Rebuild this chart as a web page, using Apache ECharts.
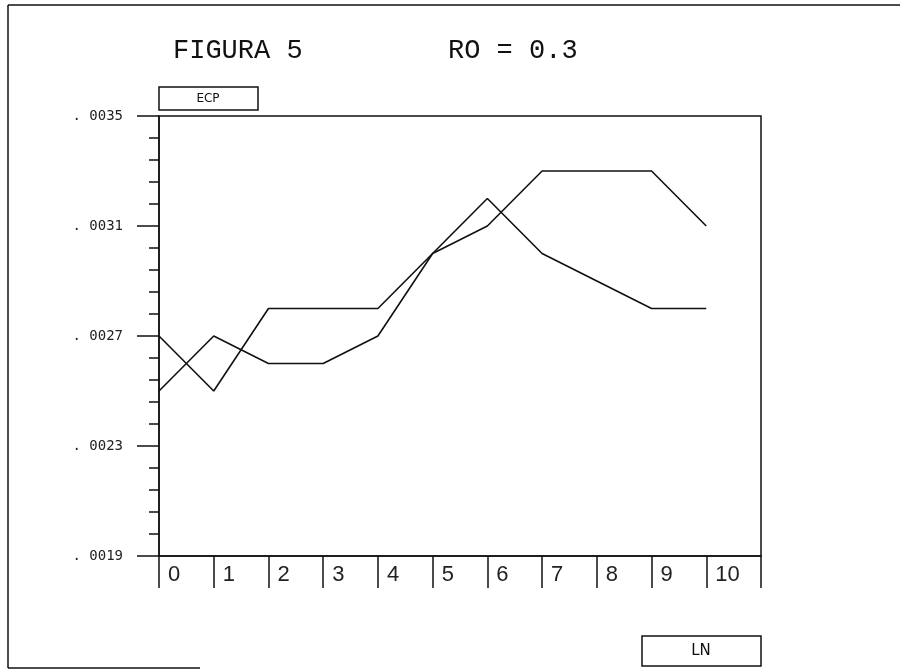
<!DOCTYPE html>
<html>
<head>
<meta charset="utf-8">
<script src="https://cdn.jsdelivr.net/npm/echarts@6/dist/echarts.min.js"></script>
<style>
html,body{margin:0;padding:0;background:#fff;}
#chart{width:900px;height:670px;}
</style>
</head>
<body>
<div id="chart"></div>
<script>
// Data
var categories = [0, 1, 2, 3, 4, 5, 6, 7, 8, 9, 10];
var seriesA = [0.0027, 0.0025, 0.0028, 0.0028, 0.0028, 0.0030, 0.0032, 0.0030, 0.0029, 0.0028, 0.0028];
var seriesB = [0.0025, 0.0027, 0.0026, 0.0026, 0.0027, 0.0030, 0.0031, 0.0033, 0.0033, 0.0033, 0.0031];
var yMin = 0.0019, yMax = 0.0035, yStep = 0.0004;
var titleText = 'FIGURA 5';
var subText = 'RO = 0.3';
var yName = 'ECP';
var xName = 'LN';

function pairs(vals) {
  return categories.map(function (c, i) { return [c, vals[i]]; });
}

var chart = echarts.init(document.getElementById('chart'), null, {renderer: 'canvas'});
var ink = '#111';
chart.setOption({
  backgroundColor: '#fff',
  animation: false,
  grid: {left: 159, right: 139, top: 116, bottom: 114, show: true, borderColor: ink, borderWidth: 1.5, backgroundColor: 'transparent'},
  xAxis: {
    type: 'value', min: 0, max: 11, interval: 1,
    axisLine: {show: true, lineStyle: {color: ink, width: 1.5}},
    axisTick: {show: true, length: 32, inside: false, lineStyle: {color: ink, width: 1.5}},
    splitLine: {show: false},
    axisLabel: {
      show: true, align: 'left', margin: 8, padding: [0, 0, 0, 9],
      fontFamily: 'Liberation Sans', fontSize: 22, color: '#222',
      formatter: function (v) { return v <= categories[categories.length - 1] ? String(v) : ''; }
    }
  },
  yAxis: {
    type: 'value', min: yMin, max: yMax, interval: yStep,
    axisLine: {show: true, lineStyle: {color: ink, width: 1.5}},
    axisTick: {show: true, length: 22, inside: false, lineStyle: {color: ink, width: 1.5}},
    minorTick: {show: true, splitNumber: 5, length: 10, lineStyle: {color: ink, width: 1.5}},
    splitLine: {show: false},
    axisLabel: {
      show: true, margin: 36,
      fontFamily: 'DejaVu Sans Mono', fontSize: 14, color: '#222',
      formatter: function (v) {
        var n = Math.round(v * 10000);
        return '. ' + ('0000' + n).slice(-4);
      }
    }
  },
  graphic: [
    {type: 'line', shape: {x1: 8, y1: 5, x2: 900, y2: 5}, style: {stroke: ink, lineWidth: 1.5}},
    {type: 'line', shape: {x1: 8, y1: 5, x2: 8, y2: 668}, style: {stroke: ink, lineWidth: 1.5}},
    {type: 'line', shape: {x1: 8, y1: 668, x2: 200, y2: 668}, style: {stroke: ink, lineWidth: 1.5}},
    {type: 'text', left: 173, top: 37, style: {text: titleText, font: '27px "Liberation Mono"', fill: ink}},
    {type: 'text', left: 448, top: 37, style: {text: subText, font: '27px "Liberation Mono"', fill: ink}},
    {type: 'rect', shape: {x: 159, y: 87, width: 99, height: 23}, style: {fill: '#fff', stroke: ink, lineWidth: 1.5}},
    {type: 'text', x: 208, y: 99, style: {text: yName, font: '12px "DejaVu Sans"', fill: ink, align: 'center', verticalAlign: 'middle'}},
    {type: 'rect', shape: {x: 642, y: 636, width: 119, height: 30}, style: {fill: '#fff', stroke: ink, lineWidth: 1.5}},
    {type: 'text', x: 701, y: 651, style: {text: xName, font: '15px "DejaVu Sans"', fill: ink, align: 'center', verticalAlign: 'middle'}}
  ],
  series: [
    {type: 'line', data: pairs(seriesA), showSymbol: false, lineStyle: {color: ink, width: 1.6}, z: 3},
    {type: 'line', data: pairs(seriesB), showSymbol: false, lineStyle: {color: ink, width: 1.6}, z: 3}
  ]
});
</script>
</body>
</html>
